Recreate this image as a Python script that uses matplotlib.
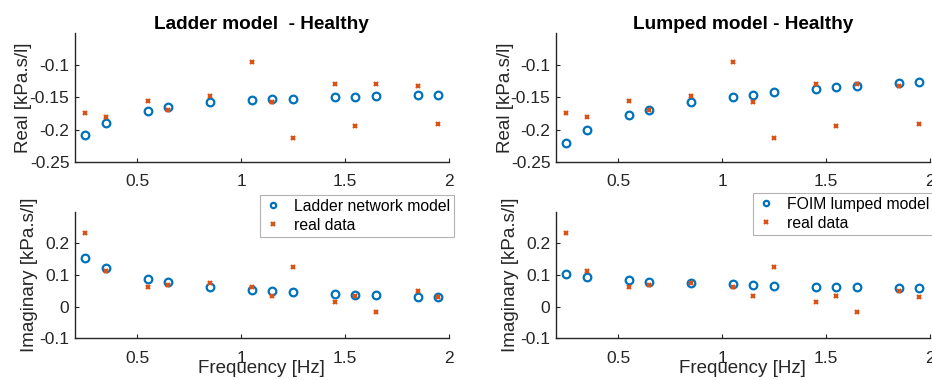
import matplotlib
matplotlib.use("Agg")
import matplotlib.pyplot as plt

plt.rcParams["font.family"] = ["Liberation Sans", "DejaVu Sans"]

BLUE = "#0072BD"
ORANGE = "#D95319"
AXIS = "#262626"

freq = [0.25, 0.35, 0.55, 0.65, 0.85, 1.05, 1.15, 1.25, 1.45, 1.55, 1.65, 1.85, 1.95]

data_real = [-0.175, -0.180, -0.156, -0.170, -0.148, -0.095, -0.158,
             -0.213, -0.129, -0.194, -0.130, -0.133, -0.192]
data_imag = [0.232, 0.112, 0.062, 0.068, 0.074, 0.063, 0.034,
             0.126, 0.016, 0.032, -0.018, 0.049, 0.031]

ladder_real = [-0.209, -0.190, -0.171, -0.165, -0.158, -0.154, -0.153,
               -0.152, -0.149, -0.149, -0.148, -0.147, -0.146]
ladder_imag = [0.154, 0.122, 0.088, 0.078, 0.062, 0.052, 0.049,
               0.045, 0.041, 0.038, 0.035, 0.031, 0.030]

lumped_real = [-0.221, -0.201, -0.178, -0.169, -0.158, -0.149, -0.146,
               -0.142, -0.137, -0.134, -0.132, -0.128, -0.126]
lumped_imag = [0.103, 0.094, 0.083, 0.079, 0.073, 0.070, 0.067,
               0.066, 0.063, 0.062, 0.061, 0.060, 0.059]

xticks = [0.5, 1, 1.5, 2]
real_ticks = [-0.25, -0.2, -0.15, -0.1]
imag_ticks = [-0.1, 0, 0.1, 0.2]


def style(ax, ylim, yticks):
    ax.set_xlim(0.2, 2)
    ax.set_ylim(*ylim)
    ax.set_xticks(xticks)
    ax.set_xticklabels(["0.5", "1", "1.5", "2"])
    ax.set_yticks(yticks)
    ax.set_yticklabels([f"{t:g}" for t in yticks])
    for side in ("top", "right"):
        ax.spines[side].set_visible(False)
    for side in ("left", "bottom"):
        ax.spines[side].set_color(AXIS)
        ax.spines[side].set_linewidth(1.0)
    ax.tick_params(direction="in", length=3, width=0.8, colors=AXIS,
                   labelsize=12.5, labelcolor=AXIS)
    ax.tick_params(axis="x", pad=9)
    ax.tick_params(axis="y", pad=4)
    ax.patch.set_alpha(0)


def scatter(ax, model, data, label):
    ax.plot(freq, model, "o", ms=5.5, mfc="none", mec=BLUE, mew=1.6,
            label=label, clip_on=False, zorder=3)
    ax.plot(freq, data, "x", ms=3.5, mec=ORANGE, mew=1.6,
            label="real data", clip_on=False, zorder=3)


fig = plt.figure(figsize=(9.32, 3.80), dpi=100)

panels = [
    (0.0805, "Ladder model  - Healthy", ladder_real, ladder_imag,
     "Ladder network model", (0.279, 0.487)),
    (0.5966, "Lumped model - Healthy", lumped_real, lumped_imag,
     "FOIM lumped model", (0.808, 0.492)),
]

for x0, title, mreal, mimag, label, leg_pos in panels:
    ax1 = fig.add_axes([x0, 0.5740, 0.4010, 0.3400])
    ax2 = fig.add_axes([x0, 0.1100, 0.4010, 0.3330])

    scatter(ax1, mreal, data_real, label)
    style(ax1, (-0.25, -0.05), real_ticks)
    ax1.set_title(title, fontsize=13.7, fontweight="bold", color="black", pad=3)
    ax1.set_ylabel("Real [kPa.s/l]", fontsize=13.5, color=AXIS, labelpad=-2)

    scatter(ax2, mimag, data_imag, label)
    style(ax2, (-0.1, 0.3), imag_ticks)
    ax2.set_ylabel("Imaginary [kPa.s/l]", fontsize=13.5, color=AXIS, labelpad=1)
    ax2.set_xlabel("Frequency [Hz]", fontsize=13.5, color=AXIS, labelpad=-4)

    leg = ax2.legend(loc="upper left", bbox_to_anchor=leg_pos,
                     bbox_transform=fig.transFigure, fontsize=11.3,
                     frameon=True, fancybox=False, edgecolor="#A0A0A0",
                     handlelength=1.2, handletextpad=0.7, borderpad=0.25,
                     borderaxespad=0, labelspacing=0.25, markerscale=0.7)
    leg.get_frame().set_linewidth(0.8)

fig.savefig("out.png", dpi=100, facecolor="white")
